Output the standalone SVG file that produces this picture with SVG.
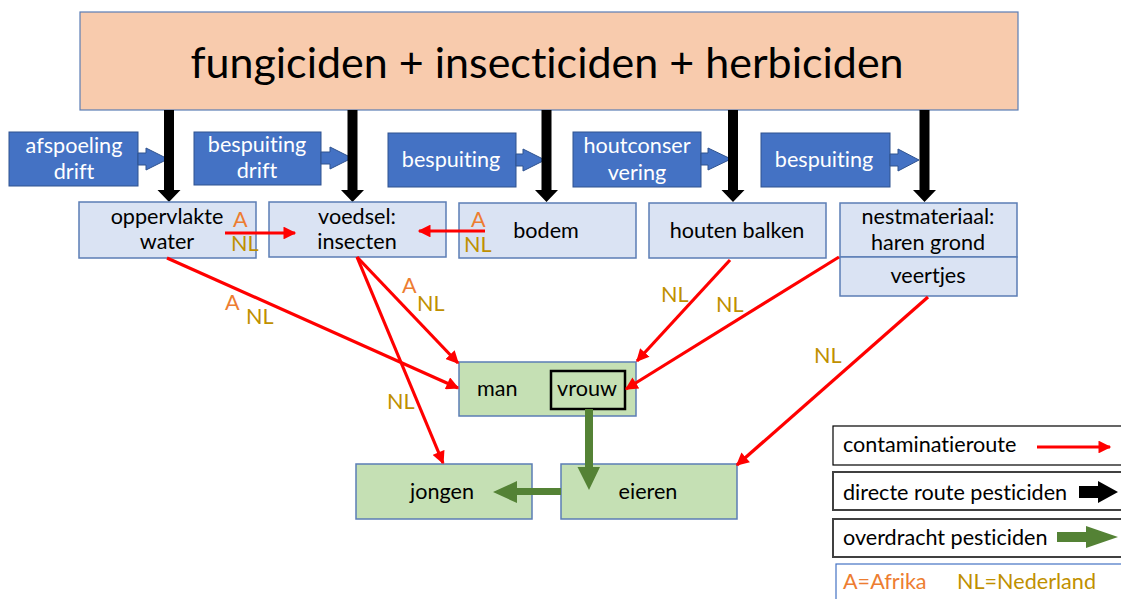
<svg xmlns="http://www.w3.org/2000/svg" width="1121" height="599" viewBox="0 0 1121 599">
<defs>
<style>
text{font-family:Lato,"Liberation Sans",sans-serif;font-size:21.6px;fill:#000;font-variant-ligatures:none}
.c{text-anchor:middle}
.w{fill:#fff}
.o{fill:#ED7D31}
.g{fill:#BF9000}
.lb{fill:#DAE3F3;stroke:#5B7DB5;stroke-width:1.5}
.gr{fill:#C5E0B4;stroke:#5B7DB5;stroke-width:1.5}
.bl{fill:#4472C4;stroke:#2F528F;stroke-width:1}
.red{stroke:#FF0000;stroke-width:3.2;fill:none;marker-end:url(#rh)}
.blk{fill:#000}
.grn{fill:#548235}
</style>
<marker id="rh" viewBox="0 0 10 10" refX="9" refY="5" markerWidth="4.2" markerHeight="4" orient="auto" markerUnits="strokeWidth">
<path d="M0,0 L10,5 L0,10 z" fill="#FF0000"/>
</marker>
</defs>
<rect width="1121" height="599" fill="#fff"/>

<g id="top">
<rect x="80" y="12" width="938" height="98" fill="#F8CBAD" stroke="#5B7DB5" stroke-width="1.2"/>
<text class="c" x="547" y="78" style="font-size:43px">fungiciden + insecticiden + herbiciden</text>
</g>

<g id="src1"><rect class="bl" x="9" y="132" width="129" height="54"/>
<polygon class="bl" points="138,153 146,153 146,148 168,159 146,170 146,165 138,165"/>
<text class="c w" x="74" y="153">afspoeling</text><text class="c w" x="74" y="179">drift</text></g>
<g id="src2"><rect class="bl" x="194" y="132" width="127" height="53"/>
<polygon class="bl" points="321,152 330,152 330,147 352,158 330,169 330,164 321,164"/>
<text class="c w" x="257" y="152">bespuiting</text><text class="c w" x="257" y="178">drift</text></g>
<g id="src3"><rect class="bl" x="388" y="133" width="128" height="54"/>
<polygon class="bl" points="516,154 523,154 523,149 545,160 523,171 523,166 516,166"/>
<text class="c w" x="451" y="167">bespuiting</text></g>
<g id="src4"><rect class="bl" x="573" y="132" width="128" height="55"/>
<polygon class="bl" points="701,153 708,153 708,148 731,159 708,170 708,165 701,165"/>
<text class="c w" x="637" y="153">houtconser</text><text class="c w" x="637" y="180">vering</text></g>
<g id="src5"><rect class="bl" x="761" y="133" width="129" height="54"/>
<polygon class="bl" points="890,154 898,154 898,149 919,160 898,171 898,166 890,166"/>
<text class="c w" x="824" y="167">bespuiting</text></g>

<g id="direct">
<polygon class="blk" points="164,110 174,110 174,190 180.5,190 169,202 157.5,190 164,190"/>
<polygon class="blk" points="347.5,110 357.5,110 357.5,190 364,190 352.5,202 341,190 347.5,190"/>
<polygon class="blk" points="541.5,110 551.5,110 551.5,190 558,190 546.5,202 535,190 541.5,190"/>
<polygon class="blk" points="728,110 738,110 738,190 744.5,190 733,202 721.5,190 728,190"/>
<polygon class="blk" points="919.5,110 929.5,110 929.5,190 936,190 924.5,202 913,190 919.5,190"/>
</g>

<g id="opp"><rect class="lb" x="79" y="202" width="177" height="56"/>
<text class="c" x="167" y="224">oppervlakte</text><text class="c" x="167" y="249">water</text></g>
<g id="voedsel"><rect class="lb" x="269" y="202" width="177" height="55"/>
<text class="c" x="357" y="224">voedsel:</text><text class="c" x="357" y="249">insecten</text></g>
<g id="bodem"><rect class="lb" x="459" y="203" width="177" height="55"/>
<text class="c" x="546" y="238">bodem</text></g>
<g id="houten"><rect class="lb" x="649" y="203" width="177" height="55"/>
<text class="c" x="737" y="238">houten balken</text></g>
<g id="nest"><rect class="lb" x="840" y="203" width="177" height="54"/>
<text class="c" x="928" y="224">nestmateriaal:</text><text class="c" x="928" y="250">haren grond</text>
<rect class="lb" x="840" y="257" width="177" height="39"/>
<text class="c" x="928" y="283">veertjes</text></g>

<g id="man"><rect class="gr" x="459" y="362" width="177" height="54"/>
<text x="477" y="396">man</text>
<rect x="551" y="371" width="74" height="38" fill="none" stroke="#000" stroke-width="2.5"/>
<text class="c" x="587" y="396">vrouw</text></g>
<g id="jongen"><rect class="gr" x="356" y="464" width="176" height="55"/>
<text class="c" x="442" y="499">jongen</text></g>
<g id="eieren"><rect class="gr" x="561" y="464" width="176" height="55"/>
<text class="c" x="648" y="499">eieren</text></g>

<g id="connectors">
<line class="red" x1="225" y1="233" x2="295" y2="233"/>
<line class="red" x1="485" y1="231" x2="419" y2="231"/>
<line class="red" x1="167" y1="258" x2="458" y2="388"/>
<line class="red" x1="357" y1="257" x2="458" y2="363"/>
<line class="red" x1="357" y1="257" x2="443" y2="463"/>
<line class="red" x1="730" y1="260" x2="637" y2="361"/>
<line class="red" x1="839" y1="257" x2="626" y2="389"/>
<line class="red" x1="928" y1="297" x2="737" y2="465"/>
<polygon class="grn" points="585,409 593,409 593,467 600,467 589,490 577.5,467 585,467"/>
<polygon class="grn" points="561,488 517,488 517,481 493,492 517,503 517,495 561,495"/>
</g>

<g id="labels">
<text class="o" x="233" y="227">A</text><text class="g" x="231" y="251">NL</text>
<text class="o" x="471" y="227">A</text><text class="g" x="464" y="252">NL</text>
<text class="o" x="225" y="310">A</text><text class="g" x="246" y="324">NL</text>
<text class="o" x="402" y="293">A</text><text class="g" x="417" y="311">NL</text>
<text class="g" x="387" y="409">NL</text>
<text class="g" x="661" y="302">NL</text>
<text class="g" x="716" y="312">NL</text>
<text class="g" x="814" y="363">NL</text>
</g>

<g id="legend">
<rect x="833" y="426" width="292" height="39" fill="#fff" stroke="#000" stroke-width="1.2"/>
<text x="843" y="452">contaminatieroute</text>
<line class="red" x1="1037" y1="447" x2="1110" y2="447"/>
<rect x="833" y="472" width="292" height="38" fill="#fff" stroke="#404040" stroke-width="2"/>
<text x="843" y="500">directe route pesticiden</text>
<polygon class="blk" points="1079,486 1098,486 1098,481 1118,492 1098,503 1098,498 1079,498"/>
<rect x="833" y="519" width="292" height="38" fill="#fff" stroke="#404040" stroke-width="2"/>
<text x="843" y="545">overdracht pesticiden</text>
<polygon class="grn" points="1057,532 1086,532 1086,526 1118,537 1086,548 1086,542 1057,542"/>
<rect x="836" y="564" width="292" height="40" fill="#fff" stroke="#4472C4" stroke-width="1.2"/>
<text class="o" x="843" y="589">A=Afrika</text>
<text class="g" x="957" y="589">NL=Nederland</text>
</g>
</svg>
